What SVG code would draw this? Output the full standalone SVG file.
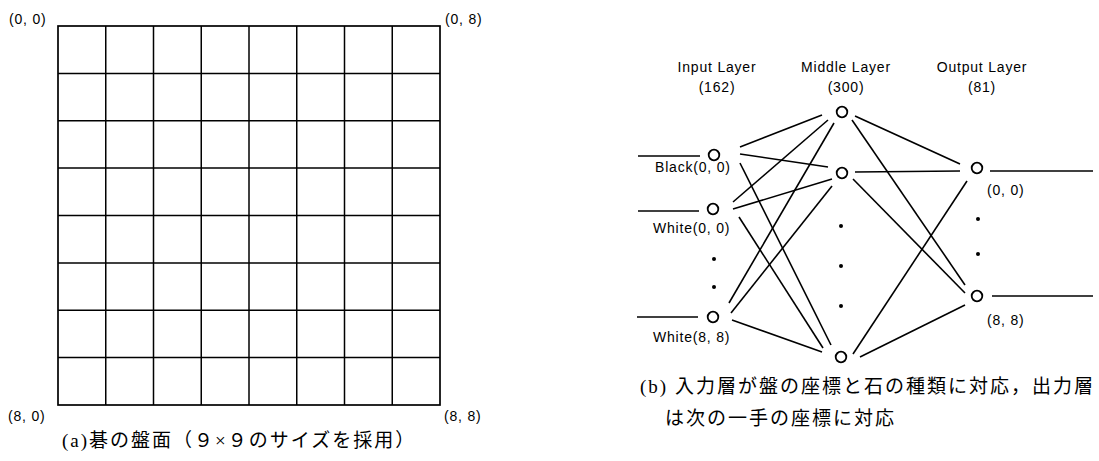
<svg xmlns="http://www.w3.org/2000/svg" width="1099" height="461" viewBox="0 0 1099 461">
<style>
.grid line{stroke:#000;stroke-width:1.5;fill:none}
.grid rect{stroke:#000;stroke-width:1.7;fill:none}
.lbl{font-family:"Liberation Sans",Arial,sans-serif;font-size:14px;letter-spacing:0.8px;fill:#000}
.mid{text-anchor:middle}
.cap{font-family:"Liberation Serif","Noto Sans CJK JP",serif;font-size:19px;letter-spacing:2px;fill:#000}
.node circle{fill:#fff;stroke:#000;stroke-width:1.8}
.dot{fill:#000}
#connectors line{stroke:#000;stroke-width:1.6}
</style>
<rect width="1099" height="461" fill="#fff"/>
<g id="board" class="grid">
<rect x="58" y="26" width="382" height="379"/>
<line x1="105.75" y1="26" x2="105.75" y2="405"/>
<line x1="153.5" y1="26" x2="153.5" y2="405"/>
<line x1="201.25" y1="26" x2="201.25" y2="405"/>
<line x1="249" y1="26" x2="249" y2="405"/>
<line x1="296.75" y1="26" x2="296.75" y2="405"/>
<line x1="344.5" y1="26" x2="344.5" y2="405"/>
<line x1="392.25" y1="26" x2="392.25" y2="405"/>
<line x1="58" y1="73.4" x2="440" y2="73.4"/>
<line x1="58" y1="120.75" x2="440" y2="120.75"/>
<line x1="58" y1="168.1" x2="440" y2="168.1"/>
<line x1="58" y1="215.5" x2="440" y2="215.5"/>
<line x1="58" y1="262.9" x2="440" y2="262.9"/>
<line x1="58" y1="310.25" x2="440" y2="310.25"/>
<line x1="58" y1="357.6" x2="440" y2="357.6"/>
</g>
<g id="board-labels">
<text class="lbl" x="9" y="24">(0, 0)</text>
<text class="lbl" x="445" y="24">(0, 8)</text>
<text class="lbl" x="8" y="421">(8, 0)</text>
<text class="lbl" x="444" y="421">(8, 8)</text>
<text class="cap" x="62" y="447">(a)碁の盤面（９×９のサイズを採用）</text>
</g>
<g id="layer-labels">
<text class="lbl mid" x="717" y="72">Input Layer</text>
<text class="lbl mid" x="717" y="92">(162)</text>
<text class="lbl mid" x="846" y="72">Middle Layer</text>
<text class="lbl mid" x="846" y="92">(300)</text>
<text class="lbl mid" x="982" y="72">Output Layer</text>
<text class="lbl mid" x="982" y="92">(81)</text>
</g>
<g id="connectors">
<line x1="638" y1="156" x2="700" y2="156"/>
<line x1="638" y1="211" x2="699" y2="211"/>
<line x1="637" y1="317" x2="698" y2="317"/>
<line x1="740" y1="147" x2="822" y2="115"/>
<line x1="740" y1="154" x2="828" y2="167"/>
<line x1="740" y1="163" x2="831" y2="345"/>
<line x1="733" y1="202" x2="828" y2="120"/>
<line x1="733" y1="209" x2="832" y2="179"/>
<line x1="739" y1="217" x2="823" y2="348"/>
<line x1="729" y1="303" x2="834" y2="123"/>
<line x1="731" y1="313" x2="832" y2="186"/>
<line x1="732" y1="320" x2="822" y2="352"/>
<line x1="855" y1="116" x2="960" y2="164"/>
<line x1="852" y1="120" x2="965" y2="285"/>
<line x1="855" y1="172" x2="960" y2="171"/>
<line x1="853" y1="179" x2="965" y2="293"/>
<line x1="853" y1="354" x2="967" y2="181"/>
<line x1="860" y1="357" x2="965" y2="305"/>
<line x1="990" y1="171" x2="1093" y2="171"/>
<line x1="992" y1="296" x2="1093" y2="296"/>
</g>
<g id="in-black00" class="node"><circle cx="714" cy="155" r="5.3"/><text class="lbl" x="655" y="172">Black(0, 0)</text></g>
<g id="in-white00" class="node"><circle cx="713" cy="209" r="5.3"/><text class="lbl" x="653" y="233">White(0, 0)</text></g>
<g id="in-white88" class="node"><circle cx="713" cy="317" r="5.3"/><text class="lbl" x="653" y="342">White(8, 8)</text></g>
<g id="in-dots"><circle class="dot" cx="714" cy="259" r="2"/><circle class="dot" cx="714" cy="287" r="2"/></g>
<g id="mid-1" class="node"><circle cx="842" cy="112" r="5.3"/></g>
<g id="mid-2" class="node"><circle cx="842" cy="173" r="5.3"/></g>
<g id="mid-300" class="node"><circle cx="841" cy="357" r="5.3"/></g>
<g id="mid-dots"><circle class="dot" cx="841" cy="226" r="2"/><circle class="dot" cx="841" cy="266" r="2"/><circle class="dot" cx="841" cy="306" r="2"/></g>
<g id="out-00" class="node"><circle cx="977" cy="168" r="5.3"/><text class="lbl" x="987" y="195">(0, 0)</text></g>
<g id="out-88" class="node"><circle cx="977" cy="296" r="5.3"/><text class="lbl" x="987" y="325">(8, 8)</text></g>
<g id="out-dots"><circle class="dot" cx="978" cy="219" r="2"/><circle class="dot" cx="978" cy="254" r="2"/></g>
<g id="caption-b">
<text class="cap" x="640" y="393">(b) 入力層が盤の座標と石の種類に対応，出力層</text>
<text class="cap" x="665" y="425">は次の一手の座標に対応</text>
</g>
</svg>
